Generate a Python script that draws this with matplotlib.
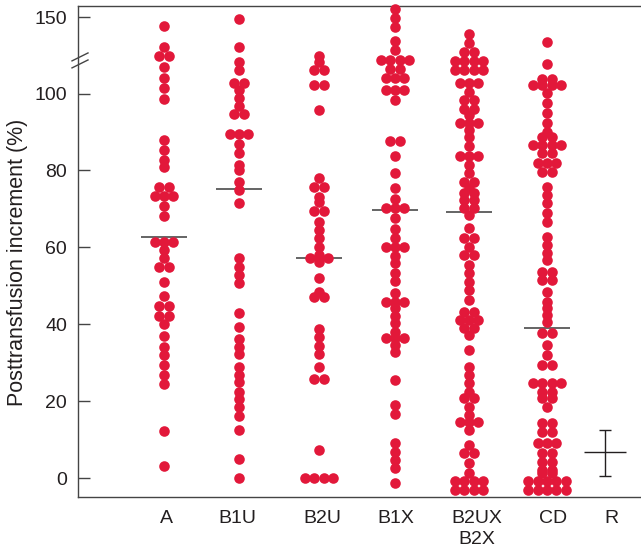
import numpy as np
import matplotlib
matplotlib.use("Agg")
import matplotlib.pyplot as plt
from collections import Counter

plt.rcParams['font.family'] = ['Liberation Sans', 'DejaVu Sans']

# ---------------- data ----------------
categories = ["A", "B1U", "B2U", "B1X", "B2UX\nB2X", "CD", "R"]

vals_A = [144.3, 130.7, 124.6, 124.6, 117.2, 110.4, 103.4, 98.6, 87.9, 85.3,
          82.7, 80.8, 75.7, 75.7, 73.4, 73.4, 73.4, 70.7, 68.1, 61.5, 61.5,
          61.5, 59.3, 57.1, 55.0, 55.0, 51.1, 47.3, 44.7, 44.7, 42.1, 42.1,
          40.1, 36.9, 34.1, 32.0, 29.4, 26.8, 24.4, 12.2, 3.2]

vals_B1U = [148.7, 130.3, 120.9, 115.4, 107.1, 107.1, 102.3, 98.8, 96.8, 94.6,
            94.6, 89.5, 89.5, 89.5, 86.8, 84.4, 81.5, 80.1, 77.1, 74.9, 71.4,
            57.1, 55.0, 52.8, 50.6, 43.0, 39.2, 36.1, 34.1, 32.2, 28.9, 26.8,
            25.0, 22.4, 20.5, 18.4, 16.2, 12.6, 4.9, 0.0]

vals_B2U = [124.6, 120.9, 115.4, 115.4, 105.6, 105.6, 95.8, 77.9, 75.8, 75.8,
            73.2, 71.9, 69.5, 69.5, 66.7, 64.5, 62.3, 60.2, 58.0, 57.1, 57.1,
            57.1, 56.3, 51.9, 48.5, 47.0, 47.0, 38.7, 36.6, 34.4, 32.2, 28.8,
            25.7, 25.7, 7.3, 0.0, 0.0, 0.0, 0.0]

vals_B1X = [155.2, 149.3, 143.4, 134.6, 128.5, 122.0, 122.0, 122.0, 122.0,
            116.0, 116.0, 110.0, 110.0, 110.0, 102.3, 102.3, 102.3, 98.2,
            87.7, 87.7, 83.7, 79.4, 75.3, 72.5, 70.1, 70.1, 70.1, 67.5, 64.7,
            62.3, 60.2, 60.2, 60.2, 57.7, 55.8, 53.4, 51.3, 48.2, 45.9, 45.9,
            45.9, 44.1, 42.1, 40.2, 38.0, 36.3, 36.3, 36.3, 34.6, 32.8, 25.5,
            19.0, 16.6, 9.0, 6.8, 4.7, 2.5, -1.2]

vals_B2UX = [138.8, 132.9, 127.4, 127.4, 121.3, 121.3, 121.3, 121.3, 115.4,
             115.4, 115.4, 115.4, 106.7, 106.7, 106.7, 101.2, 98.2, 98.2, 96.1,
             96.1, 94.4, 92.3, 92.3, 92.3, 90.5, 88.8, 86.3, 83.7, 83.7, 83.7,
             81.4, 79.2, 77.1, 77.1, 75.3, 74.0, 74.0, 72.3, 72.3, 70.1, 70.1,
             68.4, 64.9, 62.3, 62.3, 60.2, 58.0, 58.0, 55.4, 53.2, 51.1, 48.9,
             46.3, 43.3, 43.3, 41.1, 41.1, 41.1, 38.9, 38.9, 37.2, 33.3, 28.9,
             26.8, 24.6, 22.4, 20.7, 20.7, 18.5, 16.4, 14.6, 14.6, 14.6, 12.5,
             8.6, 6.4, 6.4, 3.8, 1.2, -0.7, -0.7, -0.7, -0.7, -3.1, -3.1,
             -3.1, -3.1]

vals_CD = [134.0, 119.4, 109.3, 109.3, 105.6, 105.6, 105.6, 105.6, 100.1,
           97.5, 94.9, 92.3, 90.1, 88.8, 88.8, 86.6, 86.6, 86.6, 86.6, 84.4,
           84.4, 81.8, 81.8, 81.8, 79.7, 79.7, 75.8, 73.6, 71.4, 68.8, 66.7,
           62.8, 60.6, 58.4, 56.7, 53.7, 53.7, 51.5, 51.5, 48.5, 45.9, 44.1,
           42.4, 40.7, 37.6, 37.6, 34.6, 32.0, 29.4, 29.4, 24.6, 24.6, 24.6,
           24.6, 22.4, 22.4, 20.7, 20.7, 18.5, 14.2, 14.2, 12.0, 12.0, 9.0,
           9.0, 9.0, 6.4, 6.4, 4.2, 4.2, 2.0, 2.0, 1.2, 1.2, -0.7, -0.7, -0.7,
           -0.7, -0.7, -3.0, -3.0, -3.0, -3.0, -3.0]

medians = [62.8, 75.2, 57.1, 69.7, 69.1, 39.1]

ref_mean, ref_low, ref_high = 6.8, 0.5, 12.5

yticks = [0, 20, 40, 60, 80, 100, 150]

series = [vals_A, vals_B1U, vals_B2U, vals_B1X, vals_B2UX, vals_CD]

# ---------------- layout / style ----------------
RED = '#E2183A'
DARK = '#231f20'
col_x = [164, 239, 319, 395, 469, 547]     # dot column centres (x in px-like units)
ref_x = 605
label_x = [166, 237, 322, 396, 477, 553, 611]
dot_step = 9.3

K = 0.3964  # compression of the axis above 100


def fwd(v):
    v = np.asarray(v, dtype=float)
    return np.where(v <= 100, v, 100 + (v - 100) * K)


def inv(u):
    u = np.asarray(u, dtype=float)
    return np.where(u <= 100, u, 100 + (u - 100) / K)


fig = plt.figure(figsize=(6.41, 5.54), dpi=100)
ax = fig.add_axes([78 / 641, 56.7 / 554, 563 / 641, 491.3 / 554])
ax.set_yscale('function', functions=(fwd, inv))
ax.set_xlim(78, 641)
ax.set_ylim(-5.0, 157.4)

for cx, vals in zip(col_x, series):
    xs, ys = [], []
    counts = Counter(vals)
    for v, n in counts.items():
        offs = (np.arange(n) - (n - 1) / 2.0) * dot_step
        xs.extend(cx + offs)
        ys.extend([v] * n)
    ax.scatter(xs, ys, s=58, c=RED, linewidths=0, zorder=3, clip_on=False)

for cx, m in zip(col_x, medians):
    ax.hlines(m, cx - 23, cx + 23, color='#3a3a3a', lw=1.1, zorder=2)

# reference range (R)
ax.hlines(ref_mean, ref_x - 21, ref_x + 21, color=DARK, lw=1.0)
ax.vlines(ref_x, ref_low, ref_high, color=DARK, lw=1.0)
ax.hlines([ref_low, ref_high], ref_x - 6, ref_x + 6, color=DARK, lw=1.0)

# axis styling
for side in ['left', 'bottom', 'top']:
    ax.spines[side].set_color('#444444')
    ax.spines[side].set_linewidth(1.0)
ax.spines['right'].set_visible(False)

ax.set_yticks(yticks)
ax.set_yticklabels([str(t) for t in yticks])
ax.tick_params(axis='y', direction='in', length=8.6, width=1.0, pad=8,
               labelsize=14, colors='#444444', labelcolor=DARK)
ax.set_xticks(label_x)
ax.set_xticklabels(categories, linespacing=1.35)
ax.tick_params(axis='x', length=0, pad=9, labelsize=14, labelcolor=DARK)
ax.minorticks_off()

ax.set_ylabel("Posttransfusion increment (%)", fontsize=15.5, color=DARK)
ax.yaxis.set_label_coords(-0.088, 0.479)

# axis break marks
for yb in (124.0, 119.4):
    ax.plot([72, 88], [yb - 2.6, yb + 2.6], color='#444444', lw=1.0,
            clip_on=False, zorder=5)

fig.savefig('out.png', dpi=100)
